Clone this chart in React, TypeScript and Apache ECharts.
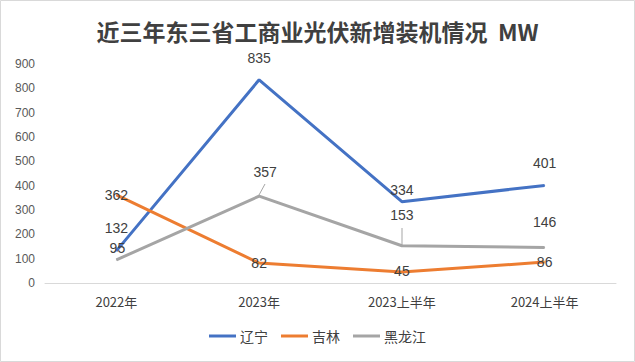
import React, { useEffect, useRef } from "react";
import * as echarts from "echarts";

const categories = ["2022年", "2023年", "2023上半年", "2024上半年"];
const liaoning = [132, 835, 334, 401];
const jilin = [362, 82, 45, 86];
const heilongjiang = [95, 357, 153, 146];
const yTicks = { min: 0, max: 900, interval: 100 };

// label offsets (style only)
const liaoningOffsets = [[0, -23], [0, -22], [0, -12], [0, -22]];
const jilinOffsets = [[0, 0], [0, 0], [0, -1], [0, 0]];
const hljOffsets = [[1, -12], [6, -24], [0, -31], [0, -25]];

const labelStyle = { color: "#404040", fontSize: 14, fontFamily: "Liberation Sans, Arial, sans-serif" };

function buildData(values: number[], offsets: number[][]) {
  return values.map((v, i) => ({
    value: v,
    label: { show: true, position: "inside", offset: offsets[i], ...labelStyle },
  }));
}

export default function App() {
  const ref = useRef<HTMLDivElement>(null);
  useEffect(() => {
    document.body.style.margin = "0";
    const chart = echarts.init(ref.current!, null, { renderer: "svg" });
    const mkSeries = (name: string, values: number[], offsets: number[][], color: string) => ({
      name,
      type: "line",
      data: buildData(values, offsets),
      symbol: "circle",
      symbolSize: 1,
      lineStyle: { color, width: 3 },
      itemStyle: { color },
      z: 2,
    });
    chart.setOption({
      animation: false,
      title: {
        text: "近三年东三省工商业光伏新增装机情况  MW",
        left: "center",
        top: 14,
        textStyle: {
          fontSize: 23,
          fontWeight: "bold",
          color: "#404040",
          fontFamily: "Noto Sans CJK SC, sans-serif",
        },
      },
      graphic: [
        {
          type: "rect",
          shape: { x: 0.5, y: 0.5, width: 634, height: 361 },
          style: { fill: "none", stroke: "#d9d9d9", lineWidth: 1 },
          silent: true,
        },
        {
          type: "line",
          shape: { x1: 265, y1: 184, x2: 259, y2: 195 },
          style: { stroke: "#a5a5a5", lineWidth: 1 },
        },
        {
          type: "line",
          shape: { x1: 402, y1: 228, x2: 402, y2: 245 },
          style: { stroke: "#a5a5a5", lineWidth: 1 },
        },
      ],
      grid: { left: 45, right: 19, top: 64, bottom: 79, containLabel: false },
      xAxis: {
        type: "category",
        data: categories,
        boundaryGap: true,
        axisLine: { lineStyle: { color: "#d9d9d9", width: 1 } },
        axisTick: { show: false },
        axisLabel: {
          color: "#404040",
          fontSize: 13,
          margin: 12,
          fontFamily: "Noto Sans CJK SC, sans-serif",
        },
      },
      yAxis: {
        type: "value",
        min: yTicks.min,
        max: yTicks.max,
        interval: yTicks.interval,
        splitLine: { show: false },
        axisLine: { show: false },
        axisTick: { show: false },
        axisLabel: {
          color: "#595959",
          fontSize: 12,
          margin: 10,
          fontFamily: "Liberation Sans, Arial, sans-serif",
        },
      },
      legend: {
        bottom: 14,
        left: "center",
        icon: "rect",
        itemWidth: 27,
        itemHeight: 3,
        itemGap: 13,
        textStyle: {
          color: "#404040",
          fontSize: 14,
          fontFamily: "Noto Sans CJK SC, sans-serif",
          padding: [0, 0, 0, -1],
        },
        data: ["辽宁", "吉林", "黑龙江"],
      },
      series: [
        mkSeries("辽宁", liaoning, liaoningOffsets, "#4472C4"),
        mkSeries("吉林", jilin, jilinOffsets, "#ED7D31"),
        mkSeries("黑龙江", heilongjiang, hljOffsets, "#A5A5A5"),
      ],
    });
    return () => chart.dispose();
  }, []);
  return <div ref={ref} style={{ width: 635, height: 362 }} />;
}
